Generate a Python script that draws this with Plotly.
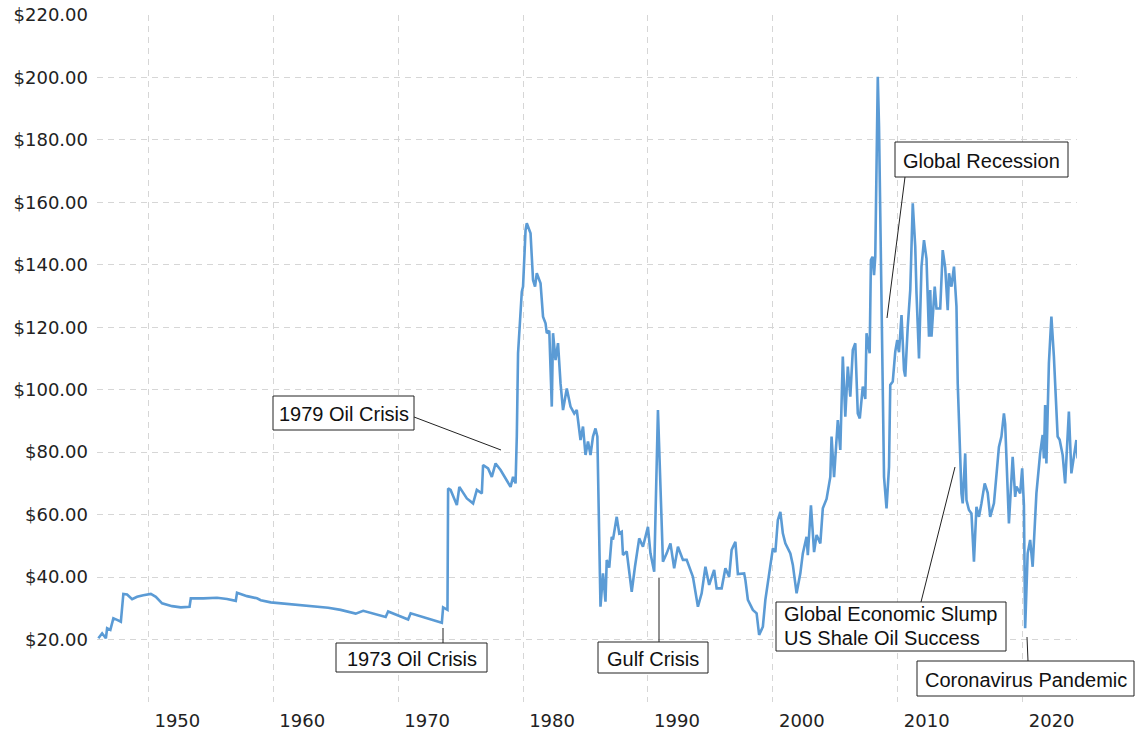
import plotly.graph_objects as go

# ---- data ----
years = [
    1946.0, 1946.3, 1946.6, 1946.7, 1946.96, 1947.2, 1947.5, 1947.8, 1948.0, 1948.3,
    1948.7, 1949.1, 1949.6, 1950.2, 1950.6, 1951.1, 1951.9, 1952.6, 1953.3, 1953.4,
    1954.4, 1955.5, 1956.3, 1957.0, 1957.1, 1957.9, 1958.7, 1959.0, 1959.8, 1961.4,
    1963.0, 1964.4, 1965.4, 1966.6, 1967.2, 1968.3, 1969.0, 1969.2, 1970.8, 1971.0,
    1972.3, 1973.5, 1973.6, 1973.95,
    1974.0, 1974.2, 1974.7, 1974.9, 1975.5, 1976.0, 1976.3, 1976.7, 1976.8, 1977.2,
    1977.5, 1977.8, 1978.2, 1979.0, 1979.2, 1979.4, 1979.5, 1979.6, 1979.9, 1980.0,
    1980.2, 1980.3, 1980.6, 1980.8, 1980.96, 1981.1, 1981.4, 1981.6, 1981.8, 1981.9,
    1982.1, 1982.3, 1982.4, 1982.6, 1982.8, 1983.0, 1983.2, 1983.5, 1983.8, 1984.1,
    1984.3, 1984.6, 1984.8, 1985.0, 1985.2, 1985.4, 1985.6, 1985.8, 1985.95,
    1986.2, 1986.4, 1986.6, 1986.7, 1986.9, 1987.1, 1987.2, 1987.5, 1987.7, 1987.9,
    1988.0, 1988.3, 1988.7, 1988.96, 1989.3, 1989.6, 1990.0, 1990.2, 1990.5, 1990.8,
    1991.0, 1991.2, 1991.5, 1991.8, 1992.1, 1992.4, 1992.8, 1993.1, 1993.6, 1994.0,
    1994.3, 1994.6, 1994.9, 1995.3, 1995.5, 1995.9, 1996.2, 1996.5, 1996.7, 1997.0,
    1997.2, 1997.7, 1997.8, 1998.0, 1998.4, 1998.7, 1998.9, 1999.2, 1999.4, 1999.8,
    2000.0, 2000.2, 2000.4, 2000.6, 2000.8, 2001.0, 2001.4, 2001.6, 2001.9, 2002.2,
    2002.4, 2002.7, 2002.8, 2003.05, 2003.3, 2003.5, 2003.8, 2004.0, 2004.3, 2004.6,
    2004.7, 2004.9, 2005.2, 2005.4, 2005.6, 2005.8, 2006.0, 2006.2, 2006.4, 2006.6,
    2006.8, 2006.96, 2007.2, 2007.4, 2007.5, 2007.75, 2007.85, 2007.98, 2008.1, 2008.2,
    2008.4, 2008.5, 2008.7, 2008.9, 2009.1, 2009.3, 2009.4, 2009.6, 2009.8, 2009.96,
    2010.1, 2010.3, 2010.5, 2010.6, 2010.8, 2011.0, 2011.2, 2011.4, 2011.5, 2011.7,
    2011.9, 2012.1, 2012.3, 2012.5, 2012.6, 2012.7, 2012.96, 2013.1, 2013.4, 2013.6,
    2013.8, 2014.0, 2014.1, 2014.3, 2014.5, 2014.7, 2014.8, 2014.96, 2015.1, 2015.2,
    2015.4, 2015.5, 2015.7, 2015.9, 2016.1, 2016.3, 2016.5, 2016.7, 2016.96, 2017.2,
    2017.4, 2017.7, 2018.1, 2018.3, 2018.5, 2018.6, 2018.9, 2019.2, 2019.4, 2019.5,
    2019.8, 2019.96, 2020.1, 2020.2, 2020.4, 2020.6, 2020.8, 2021.1, 2021.4, 2021.6,
    2021.7, 2021.8, 2021.9, 2022.1, 2022.3, 2022.5, 2022.8, 2022.96, 2023.2, 2023.4,
    2023.5, 2023.7, 2023.9, 2024.1, 2024.3, 2024.4, 2024.5, 2024.6,
]
prices = [
    20.4, 22.0, 20.4, 23.6, 23.1, 26.8, 26.3, 25.7, 34.6, 34.4,
    32.9, 33.7, 34.2, 34.6, 33.7, 31.6, 30.7, 30.3, 30.5, 33.2,
    33.2, 33.4, 33.0, 32.4, 35.0, 33.9, 33.2, 32.6, 31.9, 31.3,
    30.7, 30.2, 29.5, 28.3, 29.2, 28.1, 27.2, 29.0, 26.4, 28.4,
    26.8, 25.4, 30.3, 29.5,
    68.4, 67.9, 63.1, 68.9, 65.2, 63.6, 67.9, 66.8, 75.9, 74.8,
    72.1, 76.4, 74.3, 68.9, 72.1, 70.0, 85.0, 111.7, 131.4, 133.0,
    151.1, 153.3, 150.1, 135.1, 133.0, 137.3, 134.1, 123.4, 121.3, 118.1,
    118.9, 94.6, 118.1, 109.5, 114.9, 102.1, 93.5, 100.4, 94.6, 92.4,
    93.5, 83.9, 88.2, 79.1, 83.4, 79.1, 85.0, 87.6, 85.0,
    30.5, 41.2, 32.1, 45.5, 43.0, 52.9, 52.0, 59.3, 54.0, 54.5,
    47.1, 48.2, 35.3, 43.3, 52.4, 49.7, 56.1, 47.6, 41.7, 93.5,
    66.8, 44.9, 47.6, 50.8, 42.8, 49.7, 45.5, 45.5, 40.1, 30.5,
    34.8, 43.3, 37.5, 42.3, 36.4, 36.4, 42.8, 40.1, 48.7, 51.3,
    41.0, 41.2, 39.1, 32.7, 29.5, 28.4, 21.5, 24.1, 32.7, 44.4,
    49.2, 48.0, 58.3, 60.9, 54.0, 50.8, 47.6, 43.9, 34.8, 41.2,
    47.6, 52.9, 47.0, 63.0, 48.0, 53.5, 50.8, 62.0, 65.0, 72.1,
    85.0, 72.0, 90.3, 80.7, 110.6, 91.4, 107.4, 97.8, 112.7, 114.9,
    92.4, 90.8, 101.0, 97.0, 118.1, 111.7, 141.5, 142.6, 136.7, 142.6,
    200.2, 184.2, 125.5, 72.1, 62.0, 75.3, 101.5, 102.6, 112.2, 115.9,
    112.0, 123.9, 106.3, 104.2, 120.2, 131.9, 159.7, 145.8, 130.9, 110.0,
    139.4, 147.9, 142.0, 117.0, 131.9, 117.0, 133.0, 126.0, 126.0, 144.7,
    139.0, 125.5, 137.3, 133.0, 139.4, 126.6, 102.1, 79.6, 66.8, 63.6,
    79.6, 64.7, 61.5, 60.4, 44.9, 62.5, 59.3, 63.6, 70.0, 67.0,
    59.3, 63.6, 81.7, 85.0, 92.4, 89.0, 57.2, 78.5, 65.7, 69.0,
    66.8, 74.8, 63.0, 23.6, 47.6, 51.9, 43.3, 66.8, 79.6, 85.5,
    78.0, 95.1, 76.4, 108.5, 123.4, 110.6, 85.0, 84.0, 79.1, 70.0,
    78.0, 93.0, 73.2, 78.0, 83.9, 78.0, 82.0, 77.0,
]

x_tick_vals = [1950, 1960, 1970, 1980, 1990, 2000, 2010, 2020]
x_tick_text = ["1950", "1960", "1970", "1980", "1990", "2000", "2010", "2020"]
y_tick_vals = [0, 20, 40, 60, 80, 100, 120, 140, 160, 180, 200, 220]
y_tick_text = [""] + ["$%.2f" % v for v in y_tick_vals[1:]]

# ---- layout geometry (pixels) ----
W, H = 1136, 735
ML, MR, MT, MB = 97, 59, 15, 33
PW, PH = W - ML - MR, H - MT - MB


def px(xp):
    return (xp - ML) / PW


def py(yp):
    return (H - MB - yp) / PH


# annotation boxes: (text lines, left, top, width, height, align)
boxes = [
    (["1979 Oil Crisis"], 273, 396, 141, 34, "center"),
    (["1973 Oil Crisis"], 336, 643, 151, 29, "center"),
    (["Gulf Crisis"], 598, 642, 110, 31, "center"),
    (["Global Economic Slump", "US Shale Oil Success"], 776, 602, 230, 49, "left"),
    (["Coronavirus Pandemic"], 917, 661, 217, 35, "center"),
    (["Global Recession"], 895, 142, 173, 35, "center"),
]
leaders = [
    (414, 417, 501, 450),
    (443, 628, 443, 643),
    (659, 578, 659, 642),
    (955, 467, 921, 602),
    (1027, 637, 1028, 661),
    (905, 177, 887, 318),
]

fig = go.Figure()
fig.add_trace(go.Scatter(
    x=years, y=prices, mode="lines",
    line=dict(color="#5b9bd5", width=2.6),
    hoverinfo="x+y", showlegend=False,
))

shapes = []
annotations = []
for (x0, y0, x1, y1) in leaders:
    shapes.append(dict(type="line", xref="paper", yref="paper",
                       x0=px(x0), y0=py(y0), x1=px(x1), y1=py(y1),
                       line=dict(color="#222222", width=1), layer="above"))
for lines, L, T, bw, bh, al in boxes:
    shapes.append(dict(type="rect", xref="paper", yref="paper",
                       x0=px(L), x1=px(L + bw), y0=py(T), y1=py(T + bh),
                       fillcolor="white", line=dict(color="#222222", width=1),
                       layer="above"))
    if al == "center":
        annotations.append(dict(xref="paper", yref="paper",
                                x=px(L + bw / 2), y=py(T + bh / 2 + 1),
                                text=lines[0], showarrow=False,
                                xanchor="center", yanchor="middle",
                                font=dict(family="Liberation Sans, Arial", size=20, color="#111111")))
    else:
        for i, t in enumerate(lines):
            annotations.append(dict(xref="paper", yref="paper",
                                    x=px(L + 6), y=py(T + 12 + 23.5 * i),
                                    text=t, showarrow=False,
                                    xanchor="left", yanchor="middle",
                                    font=dict(family="Liberation Sans, Arial", size=20, color="#111111")))

grid_common = dict(showgrid=True, gridcolor="#d6d6d6", gridwidth=1, griddash="6px,5px",
                   zeroline=False, showline=False, ticks="", automargin=False)

fig.update_layout(
    width=W, height=H,
    margin=dict(l=ML, r=MR, t=MT, b=MB, pad=0, autoexpand=False),
    paper_bgcolor="white", plot_bgcolor="white",
    xaxis=dict(range=[1945.89, 2024.35], tickvals=x_tick_vals, ticktext=x_tick_text,
               ticklabelshift=29, ticklabelstandoff=6,
               tickfont=dict(family="DejaVu Sans, Verdana", size=18, color="#222222"),
               **grid_common),
    yaxis=dict(range=[0, 220], tickvals=y_tick_vals, ticktext=y_tick_text,
               ticklabelstandoff=8,
               tickfont=dict(family="DejaVu Sans, Verdana", size=18, color="#222222"),
               **grid_common),
    shapes=shapes,
    annotations=annotations,
    showlegend=False,
)

fig.write_html("out.html", config={"displayModeBar": False},
               post_script="document.body.style.margin='0';document.body.style.overflow='hidden';")
